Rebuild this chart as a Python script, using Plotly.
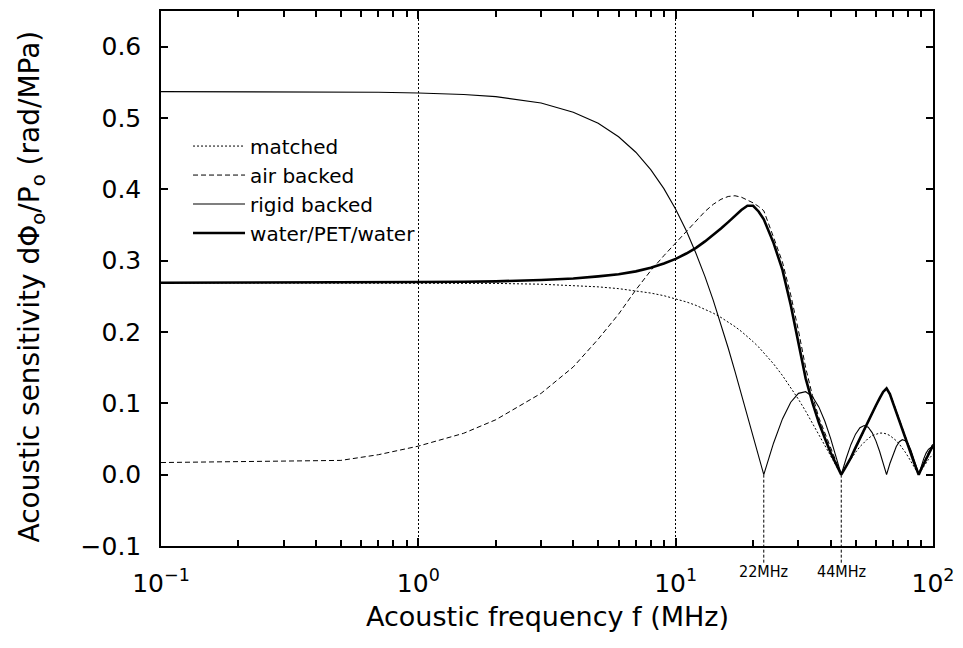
import math
import plotly.graph_objects as go

# ---------------- data ----------------
freq_mhz = [0.1, 0.2, 0.3, 0.5, 0.7, 1, 1.5, 2, 3, 4, 5, 6, 7, 8, 9, 10, 11, 12, 13, 14,
            15, 16, 17, 18, 19, 20, 21, 22, 24, 26, 28, 30, 32, 34, 36, 38, 40, 42, 44,
            46, 48, 50, 52, 54, 56, 58, 60, 62, 64, 66, 68, 70, 72, 74, 76, 78, 80, 82,
            84, 86, 88, 90, 92, 94, 96, 98, 100]

matched = [0.269, 0.269, 0.269, 0.269, 0.269, 0.2688, 0.2685, 0.2681, 0.267, 0.2654,
           0.2633, 0.2608, 0.258, 0.2546, 0.2509, 0.2467, 0.2422, 0.2373, 0.232, 0.2264,
           0.2204, 0.2142, 0.2076, 0.2008, 0.1938, 0.1864, 0.179, 0.1713, 0.1554, 0.139,
           0.1224, 0.1057, 0.089, 0.0726, 0.0566, 0.0412, 0.0265, 0.0128, 0.0,
           0.0117, 0.0221, 0.0313, 0.0392, 0.0457, 0.0508, 0.0547, 0.0571, 0.0583, 0.0583,
           0.0571, 0.0548, 0.0516, 0.0476, 0.0428, 0.0375, 0.0316, 0.0254, 0.0191,
           0.0126, 0.0062, 0.0, 0.006, 0.0115, 0.0166, 0.0212, 0.0252, 0.0285]

air_backed = [0.017, 0.018, 0.019, 0.020, 0.028, 0.040, 0.058, 0.077, 0.114, 0.151,
              0.190, 0.225, 0.259, 0.286, 0.307, 0.325, 0.341, 0.356, 0.369, 0.379,
              0.386, 0.390, 0.391, 0.389, 0.385, 0.381, 0.376, 0.370, 0.333, 0.298,
              0.252, 0.202, 0.150, 0.111, 0.080, 0.059, 0.038, 0.020, 0.0,
              0.011, 0.023, 0.036, 0.049, 0.062, 0.074, 0.085, 0.096, 0.106, 0.115,
              0.119, 0.114, 0.102, 0.090, 0.078, 0.066, 0.054, 0.043, 0.032,
              0.021, 0.010, 0.0, 0.009, 0.017, 0.024, 0.031, 0.037, 0.043]

rigid_backed = [0.537, 0.537, 0.537, 0.5365, 0.536, 0.535, 0.533, 0.530, 0.521, 0.508,
                0.4925, 0.4737, 0.452, 0.4276, 0.401, 0.372, 0.342, 0.310, 0.2776, 0.2443,
                0.2109, 0.1776, 0.1449, 0.1129, 0.0822, 0.053, 0.0255, 0.0, 0.0441, 0.0782,
                0.1015, 0.114, 0.1163, 0.1095, 0.095, 0.0748, 0.0508, 0.0252, 0.0,
                0.023, 0.0424, 0.0568, 0.0658, 0.0689, 0.0665, 0.059, 0.0474, 0.0328, 0.0166,
                0.0, 0.0156, 0.029, 0.0395, 0.0462, 0.049, 0.0477, 0.0428, 0.0347,
                0.0242, 0.0123, 0.0, 0.0118, 0.0221, 0.0302, 0.0356, 0.038, 0.0372]

water_pet_water = [0.269, 0.269, 0.269, 0.269, 0.2695, 0.270, 0.2705, 0.271, 0.273, 0.275,
                   0.278, 0.281, 0.285, 0.290, 0.296, 0.3025, 0.310, 0.318, 0.327, 0.336,
                   0.345, 0.354, 0.363, 0.371, 0.377, 0.377, 0.369, 0.358, 0.325, 0.287,
                   0.238, 0.187, 0.135, 0.101, 0.073, 0.051, 0.031, 0.015, 0.0,
                   0.012, 0.024, 0.038, 0.051, 0.064, 0.075, 0.086, 0.097, 0.107, 0.116,
                   0.121, 0.113, 0.100, 0.088, 0.076, 0.064, 0.052, 0.041, 0.030,
                   0.019, 0.009, 0.0, 0.008, 0.015, 0.022, 0.029, 0.035, 0.041]

series_names = ["matched", "air backed", "rigid backed", "water/PET/water"]
null_freqs = [22, 44]
null_labels = ["22MHz", "44MHz"]
x_tickvals = [0.1, 1, 10, 100]
x_ticktext = ["10<sup>\u22121</sup>", "10<sup>0</sup>", "10<sup>1</sup>", "10<sup>2</sup>"]
x_minor_tickvals = [round(m * d, 3) for d in (0.1, 1, 10) for m in range(2, 10)]
y_tickvals = [-0.1, 0.0, 0.1, 0.2, 0.3, 0.4, 0.5, 0.6]
y_range = [-0.1, 0.65]
x_range_log = [-1, 2]

# ---------------- styling ----------------
FONT = "DejaVu Sans, sans-serif"
NARROW = "Liberation Sans Narrow, DejaVu Sans Condensed, sans-serif"
W, H = 963, 648
ML, MR, MT, MB = 161, 24, 9, 102
PLOT_W = W - ML - MR
PLOT_H = H - MT - MB

line_styles = [
    dict(color="black", width=1, dash="2px,2px"),
    dict(color="black", width=1, dash="5px,3px"),
    dict(color="black", width=1.1),
    dict(color="black", width=2.6),
]

fig = go.Figure()
for name, ys, st in zip(series_names, [matched, air_backed, rigid_backed, water_pet_water], line_styles):
    fig.add_trace(go.Scatter(x=freq_mhz, y=ys, mode="lines", name=name, line=st))

# empty helper trace so the overlay axis (minor log ticks) gets drawn
fig.add_trace(go.Scatter(x=[x_tickvals[0], x_tickvals[-1]], y=[None, None], xaxis="x2",
                         mode="lines", showlegend=False, hoverinfo="skip"))

def y_to_paper(v):
    return (v - y_range[0]) / (y_range[1] - y_range[0])

shapes = []
annotations = []
for f, lab in zip(null_freqs, null_labels):
    # shapes on a log axis take data values; annotations take log10 values
    shapes.append(dict(type="line", xref="x", yref="paper",
                       x0=f, x1=f,
                       y0=y_to_paper(0.0), y1=-17 / PLOT_H,
                       line=dict(color="black", width=1, dash="3px,2px")))
    annotations.append(dict(x=math.log10(f), xref="x", y=-26 / PLOT_H, yref="paper",
                            text=lab, showarrow=False, xanchor="center", yanchor="middle",
                            font=dict(family=NARROW, size=16, color="black")))

annotations.append(dict(text="Acoustic frequency f (MHz)", xref="paper", yref="paper",
                        x=0.5, y=-71 / PLOT_H, showarrow=False, xanchor="center",
                        yanchor="middle", font=dict(family=FONT, size=27, color="black")))
annotations.append(dict(text="Acoustic sensitivity d\u03a6<sub>o</sub>/P<sub>o</sub> (rad/MPa)",
                        xref="paper", yref="paper", x=-(ML - 31) / PLOT_W, y=0.485,
                        textangle=-90, showarrow=False, xanchor="center", yanchor="middle",
                        font=dict(family=FONT, size=28, color="black")))

fig.update_layout(
    width=W, height=H,
    margin=dict(l=ML, r=MR, t=MT, b=MB),
    paper_bgcolor="white", plot_bgcolor="white",
    font=dict(family=FONT, color="black"),
    showlegend=True,
    legend=dict(x=0.035, y=0.784, xanchor="left", yanchor="top", itemwidth=52,
                bgcolor="rgba(0,0,0,0)", borderwidth=0,
                font=dict(family=FONT, size=20, color="black")),
    shapes=shapes,
    annotations=annotations,
    xaxis=dict(type="log", range=x_range_log, tickmode="array", tickvals=x_tickvals,
               ticktext=x_ticktext, ticks="inside", ticklen=8, tickwidth=1.5, tickcolor="black",
               showline=True, linecolor="black", linewidth=1.5, mirror="ticks",
               showgrid=True, gridcolor="black", gridwidth=1, griddash="2px,2px",
               zeroline=False, tickfont=dict(family=FONT, size=25, color="black"),
               ticklabelstandoff=14, layer="above traces"),
    # overlay axis carrying the minor (2..9) log ticks, top and bottom
    xaxis2=dict(type="log", range=x_range_log, overlaying="x", anchor="y", side="bottom",
                tickmode="array", tickvals=x_minor_tickvals, showticklabels=False,
                ticks="inside", ticklen=6, tickwidth=1.5, tickcolor="black",
                showline=True, linecolor="black", linewidth=1.5, mirror="ticks",
                showgrid=False, zeroline=False, layer="above traces"),
    yaxis=dict(range=y_range, tickmode="array", tickvals=y_tickvals, tickformat=".1f",
               ticks="inside", ticklen=7, tickwidth=1.5, tickcolor="black",
               showline=True, linecolor="black", linewidth=1.5, mirror="ticks",
               showgrid=False, zeroline=False, ticklabelstandoff=13,
               tickfont=dict(family=FONT, size=25, color="black"), layer="above traces"),
)

fig.write_html("out.html")
